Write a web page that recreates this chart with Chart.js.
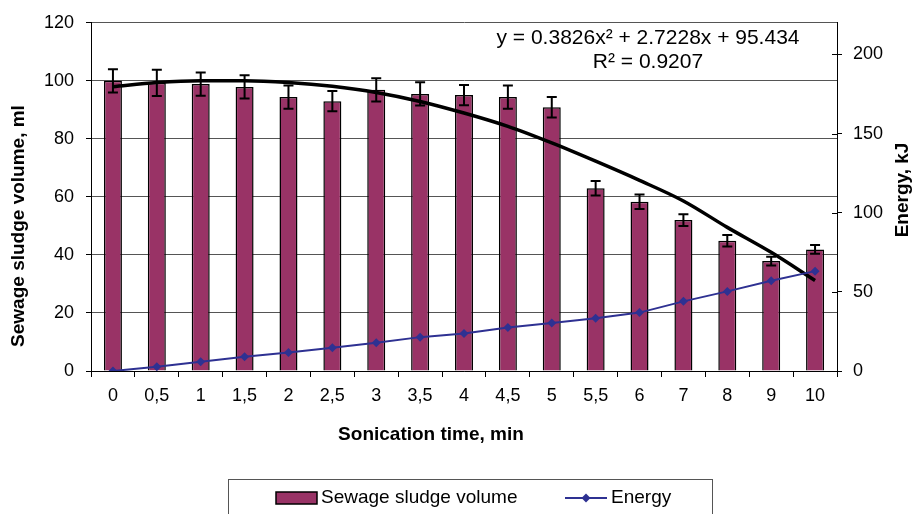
<!DOCTYPE html>
<html>
<head>
<meta charset="utf-8">
<script src="https://cdn.jsdelivr.net/npm/chart.js@4.4.0/dist/chart.umd.min.js"></script>
<style>
  html, body { margin: 0; padding: 0; background: #fff; }
  #wrap { width: 913px; height: 514px; position: relative; }
</style>
</head>
<body>
<div id="wrap"><canvas id="myChart" width="913" height="514"></canvas></div>
<script>
const times = ["0", "0,5", "1", "1,5", "2", "2,5", "3", "3,5", "4", "4,5", "5", "5,5", "6", "7", "8", "9", "10"];
const volume = [100, 99.3, 98.9, 97.9, 94.4, 93, 96.9, 95.5, 95.1, 94.4, 90.9, 63, 58.3, 52, 44.9, 37.9, 41.9];
const volumeErr = [4, 4.5, 4, 4, 4, 3.5, 4, 4, 3.5, 4, 3.5, 2.5, 2.5, 2, 2, 1.5, 1.5];
const energy = [0, 2.7, 5.9, 9, 11.7, 14.7, 17.8, 21.4, 23.7, 27.5, 30.4, 33.3, 36.9, 44, 50.3, 57, 63.1];
// trend curve
const trend = [98, 99.4, 100, 100, 99.4, 98.1, 96, 92.9, 88.9, 84.3, 78.6, 72.3, 65.7, 58.6, 49.5, 40.9, 31.2];
const volumeTicks = [0, 20, 40, 60, 80, 100, 120];
const energyTicks = [0, 50, 100, 150, 200];

const barColor = "#993366";
const lineColor = "#2e3192";
const fontName = "'Liberation Sans', Arial, sans-serif";

const errorBars = {
  id: "errorBars",
  afterDatasetDraw(chart, args) {
    if (args.index !== 0) return;
    const c = chart.ctx;
    const y = chart.scales.y;
    const meta = chart.getDatasetMeta(0);
    c.save();
    c.strokeStyle = "#000";
    c.lineWidth = 2;
    meta.data.forEach((bar, i) => {
      const top = y.getPixelForValue(volume[i] + volumeErr[i]);
      const bot = y.getPixelForValue(volume[i] - volumeErr[i]);
      c.beginPath();
      c.moveTo(bar.x, top);
      c.lineTo(bar.x, bot);
      c.moveTo(bar.x - 5, top);
      c.lineTo(bar.x + 5, top);
      c.moveTo(bar.x - 5, bot);
      c.lineTo(bar.x + 5, bot);
      c.stroke();
    });
    c.restore();
  },
};

const extras = {
  id: "extras",
  afterDraw(chart) {
    const c = chart.ctx;
    const area = chart.chartArea;
    c.save();
    // cross ticks inside of right axis
    const y1 = chart.scales.y1;
    c.strokeStyle = "#000";
    c.lineWidth = 1;
    energyTicks.forEach((v) => {
      const py = Math.round(y1.getPixelForValue(v)) + 0.5;
      c.beginPath();
      c.moveTo(area.right - 5, py);
      c.lineTo(area.right, py);
      c.stroke();
    });

    c.fillStyle = "#000";
    c.textAlign = "center";
    c.textBaseline = "middle";
    // equation
    c.font = "21px " + fontName;
    c.fillText("y = 0.3826x\u00b2 + 2.7228x + 95.434", 648, 38);
    c.fillText("R\u00b2 = 0.9207", 648, 62);

    // axis titles
    c.font = "bold 19px " + fontName;
    c.fillText("Sonication time, min", 431, 435);
    c.save();
    c.translate(19, 226);
    c.rotate(-Math.PI / 2);
    c.fillText("Sewage sludge volume, ml", 0, 0);
    c.restore();
    c.save();
    c.translate(903, 190);
    c.rotate(-Math.PI / 2);
    c.fillText("Energy, kJ", 0, 0);
    c.restore();

    // legend
    c.strokeStyle = "#555";
    c.lineWidth = 1;
    c.strokeRect(228.5, 479.5, 484, 60);
    c.fillStyle = barColor;
    c.fillRect(276, 492, 41, 12);
    c.strokeStyle = "#000";
    c.lineWidth = 1.5;
    c.strokeRect(276, 492, 41, 12);
    c.strokeStyle = lineColor;
    c.lineWidth = 2;
    c.beginPath();
    c.moveTo(565, 498);
    c.lineTo(607, 498);
    c.stroke();
    c.fillStyle = lineColor;
    c.beginPath();
    c.moveTo(586, 493.5);
    c.lineTo(590.5, 498);
    c.lineTo(586, 502.5);
    c.lineTo(581.5, 498);
    c.closePath();
    c.fill();
    c.fillStyle = "#000";
    c.textAlign = "left";
    c.font = "19px " + fontName;
    c.fillText("Sewage sludge volume", 321, 498);
    c.fillText("Energy", 611, 498);
    c.restore();
  },
};

const ctx = document.getElementById("myChart");
const myChart = new Chart(ctx, {
  data: {
    labels: times,
    datasets: [
      {
        type: "bar",
        label: "Sewage sludge volume",
        data: volume,
        backgroundColor: barColor,
        borderColor: "#000",
        borderWidth: 1.5,
        barPercentage: 0.41,
        categoryPercentage: 1,
        yAxisID: "y",
        order: 3,
      },
      {
        type: "line",
        label: "Trend",
        data: trend,
        borderColor: "#000",
        borderWidth: 3.5,
        pointRadius: 0,
        tension: 0.4,
        cubicInterpolationMode: "monotone",
        yAxisID: "y",
        order: 2,
      },
      {
        type: "line",
        label: "Energy",
        data: energy,
        borderColor: lineColor,
        backgroundColor: lineColor,
        borderWidth: 2,
        pointStyle: "rectRot",
        pointRadius: 4.5,
        pointBorderWidth: 0,
        yAxisID: "y1",
        order: 1,
      },
    ],
  },
  options: {
    responsive: false,
    animation: false,
    layout: { padding: { top: 21, left: 0, right: 0, bottom: 0 } },
    plugins: {
      legend: { display: false },
      tooltip: { enabled: false },
    },
    scales: {
      x: {
        offset: true,
        grid: { offset: true, drawOnChartArea: false, tickLength: 6, tickColor: "#000" },
        border: { color: "#000", width: 1 },
        ticks: { color: "#000", padding: 8, font: { family: fontName, size: 18 }, maxRotation: 0 },
        afterFit: (axis) => { axis.height = 143; },
      },
      y: {
        position: "left",
        min: 0,
        max: 120,
        afterBuildTicks: (axis) => { axis.ticks = volumeTicks.map((v) => ({ value: v })); },
        grid: { color: "#555", tickColor: "#000", tickLength: 5 },
        border: { color: "#000", width: 1 },
        ticks: { color: "#000", padding: 12, font: { family: fontName, size: 18 } },
        afterFit: (axis) => { axis.width = 91; },
      },
      y1: {
        position: "right",
        min: 0,
        max: 220,
        afterBuildTicks: (axis) => { axis.ticks = energyTicks.map((v) => ({ value: v })); },
        grid: { drawOnChartArea: false, tickColor: "#000", tickLength: 5 },
        border: { color: "#000", width: 1 },
        ticks: { color: "#000", padding: 11, font: { family: fontName, size: 18 } },
        afterFit: (axis) => { axis.width = 76; },
      },
    },
  },
  plugins: [errorBars, extras],
});
</script>
</body>
</html>
